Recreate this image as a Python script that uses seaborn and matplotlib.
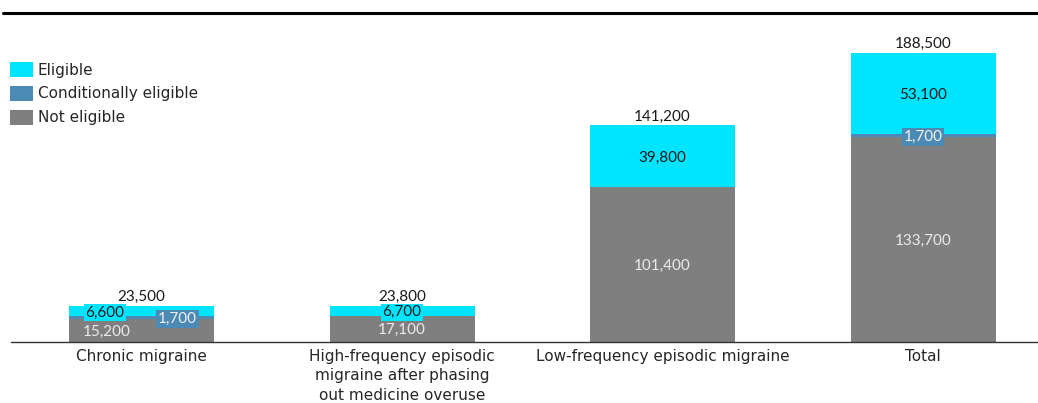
import matplotlib
matplotlib.use("Agg")
import matplotlib.pyplot as plt
import seaborn as sns
import pandas as pd
from matplotlib.patches import Patch
from matplotlib.lines import Line2D

# Patient counts by migraine group and eligibility
categories = [
    "Chronic migraine",
    "High-frequency episodic\nmigraine after phasing\nout medicine overuse",
    "Low-frequency episodic migraine",
    "Total",
]
not_eligible = [15200, 17100, 101400, 133700]
conditionally_eligible = [1700, 0, 0, 1700]
eligible = [6600, 6700, 39800, 53100]
totals = [23500, 23800, 141200, 188500]

series_names = ["Eligible", "Conditionally eligible", "Not eligible"]
colors = {"Eligible": "#00E5FF", "Conditionally eligible": "#4A8AB4", "Not eligible": "#7F7F7F"}

sns.set_theme(style="white")
plt.rcParams["font.family"] = ["DejaVu Sans"]
num_font = ["Lato", "DejaVu Sans"]

W, H = 1038, 403
fig = plt.figure(figsize=(W / 100, H / 100), dpi=100)
ax = fig.add_axes([11 / W, (H - 342) / H, (1037 - 11) / W, (342 - 12) / H])

# Cumulative heights so the stacks can be drawn as overlapping bars
df = pd.DataFrame({
    "category": categories,
    "not": not_eligible,
    "cond": conditionally_eligible,
    "elig": eligible,
})
df["lvl1"] = df["not"]
df["lvl2"] = df["not"] + df["cond"]
df["lvl3"] = df["lvl2"] + df["elig"]

bar_w = 0.557
for col, name in [("lvl3", "Eligible"), ("lvl2", "Conditionally eligible"), ("lvl1", "Not eligible")]:
    sns.barplot(data=df, x="category", y=col, order=categories, color=colors[name],
                saturation=1, width=bar_w, linewidth=0, ax=ax, errorbar=None)

ax.set_xlim(-0.501, 3.437)
ax.set_ylim(0, 215200)
ax.set_xlabel("")
ax.set_ylabel("")
ax.set_yticks([])
for side in ["top", "left", "right"]:
    ax.spines[side].set_visible(False)
ax.spines["bottom"].set_color("#333333")
ax.spines["bottom"].set_linewidth(1.0)
ax.tick_params(axis="x", length=0, pad=5, labelsize=11, labelcolor="#262626")
for lbl in ax.get_xticklabels():
    lbl.set_linespacing(1.36)

fs = 11
light = "#EBEBEB"
dark = "#1A1A1A"
# x offsets used where small segments would otherwise collide
dx_not = [-0.135, 0, 0, 0]
dx_elig = [-0.14, 0, 0, 0]
dx_cond = [0.138, 0, 0, 0]

for i in range(len(categories)):
    n, c, e = not_eligible[i], conditionally_eligible[i], eligible[i]
    # Not eligible
    ax.text(i + dx_not[i], n / 2, f"{n:,}", ha="center", va="center_baseline", fontsize=fs,
            color=light, family=num_font)
    # Conditionally eligible
    if c > 0:
        ax.text(i + dx_cond[i], n + c / 2, f"{c:,}", ha="center", va="center_baseline",
                fontsize=fs, color="#F2F2F2", family=num_font,
                bbox=dict(boxstyle="square,pad=0.12", fc=colors["Conditionally eligible"], ec="none"))
    # Eligible
    small = e < 10000
    ax.text(i + dx_elig[i], n + c + e / 2, f"{e:,}", ha="center", va="center_baseline",
            fontsize=fs, color=dark, family=num_font,
            bbox=(dict(boxstyle="square,pad=0.1", fc=colors["Eligible"], ec="none") if small else None))
    # Total above the stack
    ax.annotate(f"{totals[i]:,}", (i, totals[i]), xytext=(0, 7.5), textcoords="offset points",
                ha="center", va="center_baseline", fontsize=fs, color=dark, family=num_font)

# Legend in the upper-left corner
handles = [Patch(facecolor=colors[nm], edgecolor="none") for nm in series_names]
fig.legend(handles, series_names, loc="upper left", bbox_to_anchor=(10 / W, 1 - 62 / H),
           frameon=False, fontsize=11, handlelength=1.5, handleheight=1.1,
           handletextpad=0.3, labelspacing=0.55, borderpad=0, borderaxespad=0,
           labelcolor="#262626")

# Rule across the top of the figure
fig.add_artist(Line2D([3 / W, 1.0], [1 - 12.5 / H] * 2, color="black", lw=2.2,
                      transform=fig.transFigure))

fig.savefig("out.png", dpi=100)
